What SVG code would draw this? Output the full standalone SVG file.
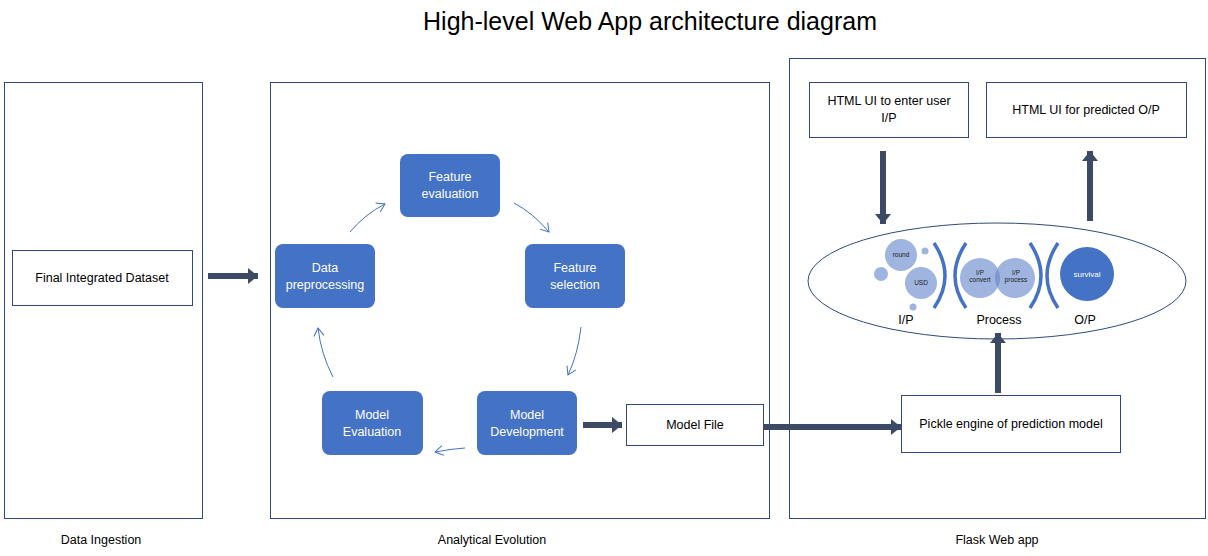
<svg xmlns="http://www.w3.org/2000/svg" width="1208" height="556" viewBox="0 0 1208 556">
<style>
.panel{fill:#fff;stroke:#2F4A7A;stroke-width:1}
.box{fill:#fff;stroke:#2F4A7A;stroke-width:1}
.blue{fill:#4472C4;stroke:none}
.t{font-family:"Liberation Sans",Arial,sans-serif;font-size:12.5px;fill:#000;text-anchor:middle}
.w{font-family:"Liberation Sans",Arial,sans-serif;font-size:12.5px;fill:#fff;text-anchor:middle}
.small{font-family:"Liberation Sans",Arial,sans-serif;font-size:6.5px;fill:#222;text-anchor:middle}
.thick{stroke:#3C4A66;stroke-width:6;fill:none;marker-end:url(#big)}
.thin{stroke:#4472C4;stroke-width:1;fill:none;marker-end:url(#open)}
.lc{fill:#9FB4DE}
.br{fill:none;stroke:#4472C4;stroke-width:3.5}
</style>
<defs>
<marker id="big" markerUnits="userSpaceOnUse" markerWidth="12" markerHeight="16" refX="10" refY="8" orient="auto">
<path d="M0,0 L10,8 L0,16 Z" fill="#3C4A66"/>
</marker>
<marker id="open" markerUnits="userSpaceOnUse" markerWidth="12" markerHeight="12" refX="9" refY="6" orient="auto">
<path d="M1,1 L9,6 L1,11" fill="none" stroke="#4472C4" stroke-width="1"/>
</marker>
</defs>
<rect width="1208" height="556" fill="#fff"/>
<text x="650" y="30" font-family="Liberation Sans,Arial,sans-serif" font-size="25" text-anchor="middle" fill="#000">High-level Web App architecture diagram</text>

<g id="panel-ingestion">
<rect class="panel" x="4.5" y="82.5" width="198" height="436"/>
<text class="t" x="101" y="544">Data Ingestion</text>
</g>
<g id="panel-analytical">
<rect class="panel" x="270.5" y="82.5" width="499" height="436"/>
<text class="t" x="492" y="544">Analytical Evolution</text>
</g>
<g id="panel-flask">
<rect class="panel" x="789.5" y="58.5" width="416" height="460"/>
<text class="t" x="997" y="544">Flask Web app</text>
</g>

<g id="final-dataset">
<rect class="box" x="12.5" y="250.5" width="180" height="55"/>
<text class="t" x="102" y="282">Final Integrated Dataset</text>
</g>

<g id="feature-evaluation">
<rect class="blue" x="400" y="154" width="100" height="63" rx="8"/>
<text class="w" x="450" y="181">Feature</text>
<text class="w" x="450" y="198">evaluation</text>
</g>
<g id="data-preprocessing">
<rect class="blue" x="275" y="244" width="100" height="64" rx="8"/>
<text class="w" x="325" y="272">Data</text>
<text class="w" x="325" y="289">preprocessing</text>
</g>
<g id="feature-selection">
<rect class="blue" x="525" y="244" width="100" height="64" rx="8"/>
<text class="w" x="575" y="272">Feature</text>
<text class="w" x="575" y="289">selection</text>
</g>
<g id="model-evaluation">
<rect class="blue" x="322" y="391" width="101" height="64" rx="8"/>
<text class="w" x="372" y="419">Model</text>
<text class="w" x="372" y="436">Evaluation</text>
</g>
<g id="model-development">
<rect class="blue" x="477" y="391" width="100" height="64" rx="8"/>
<text class="w" x="527" y="419">Model</text>
<text class="w" x="527" y="436">Development</text>
</g>

<g id="model-file">
<rect class="box" x="626.5" y="404.5" width="137" height="41"/>
<text class="t" x="695" y="429">Model File</text>
</g>
<g id="pickle-engine">
<rect class="box" x="901.5" y="395.5" width="219" height="57"/>
<text class="t" x="1011" y="428">Pickle engine of prediction model</text>
</g>
<g id="html-input">
<rect class="box" x="809.5" y="82.5" width="159" height="55"/>
<text class="t" x="889" y="105">HTML UI to enter user</text>
<text class="t" x="889" y="122">I/P</text>
</g>
<g id="html-output">
<rect class="box" x="986.5" y="82.5" width="200" height="55"/>
<text class="t" x="1086" y="114">HTML UI for predicted O/P</text>
</g>

<g id="flask-process">
<ellipse cx="997" cy="281" rx="189" ry="58" fill="#fff" stroke="#2F4A7A" stroke-width="1"/>
<circle class="lc" cx="901" cy="255" r="16"/>
<circle class="lc" cx="925" cy="251" r="3.5"/>
<circle class="lc" cx="881" cy="274" r="7"/>
<circle class="lc" cx="921" cy="283" r="16"/>
<circle class="lc" cx="913" cy="307" r="3.5"/>
<text class="small" x="901" y="257">round</text>
<text class="small" x="921" y="285">USD</text>
<path class="br" d="M934,243 Q956,276 934,308"/>
<path class="br" d="M966,243 Q944,276 966,308"/>
<circle class="lc" cx="980" cy="278" r="20"/>
<circle class="lc" cx="1015" cy="278" r="20"/>
<path d="M997.5,268.3 A20,20 0 0 1 997.5,287.7 A20,20 0 0 1 997.5,268.3 Z" fill="#7C98D3"/>
<text class="small" x="980" y="275">I/P</text>
<text class="small" x="980" y="282">convert</text>
<text class="small" x="1016" y="275">I/P</text>
<text class="small" x="1016" y="282">process</text>
<path class="br" d="M1030,243 Q1052,276 1030,308"/>
<path class="br" d="M1058,243 Q1036,276 1058,308"/>
<circle cx="1087" cy="274" r="27" fill="#4472C4"/>
<text x="1087" y="277" font-family="Liberation Sans,Arial,sans-serif" font-size="8" fill="#fff" text-anchor="middle">survival</text>
<text class="t" x="906" y="324">I/P</text>
<text class="t" x="999" y="324">Process</text>
<text class="t" x="1085" y="324">O/P</text>
</g>

<g id="connectors">
<line class="thick" x1="208" y1="276" x2="258" y2="276"/>
<path class="thin" d="M350,232 Q365,214 385,204"/>
<path class="thin" d="M514,203 Q533,213 549,232"/>
<path class="thin" d="M581,327 Q578,354 568,375"/>
<path class="thin" d="M465,448 Q450,449 435,452"/>
<path class="thin" d="M333,377 Q321,354 318,328"/>
<line class="thick" x1="583" y1="425" x2="622" y2="425"/>
<line class="thick" x1="763" y1="427" x2="901" y2="427"/>
<line class="thick" x1="998" y1="393" x2="998" y2="333"/>
<line class="thick" x1="883" y1="151" x2="883" y2="224"/>
<line class="thick" x1="1090" y1="221" x2="1090" y2="151"/>
</g>
</svg>
